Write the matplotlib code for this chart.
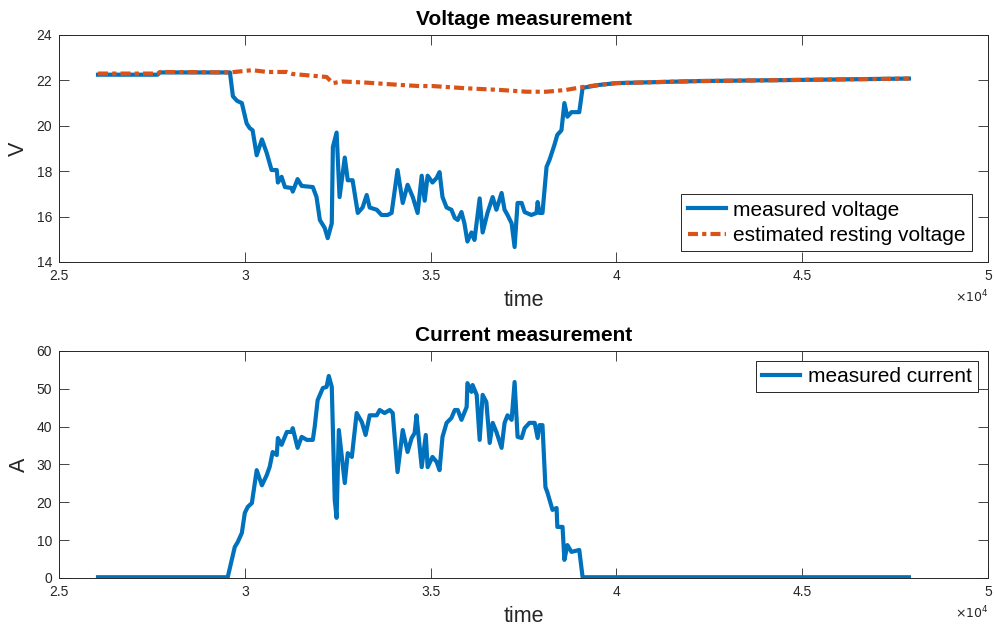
import numpy as np
import matplotlib
matplotlib.use('Agg')
import matplotlib.pyplot as plt
from matplotlib.ticker import FuncFormatter

plt.rcParams['font.family'] = ['Liberation Sans', 'DejaVu Sans']

# measured voltage (time in s, volts)
t_volt = [26050, 27650, 27720, 29600, 29680, 29790, 29920, 30050, 30130, 30210,
          30320, 30460, 30590, 30720, 30860, 30890, 30990, 31080, 31260, 31290,
          31420, 31530, 31830, 31930, 32020, 32150, 32230, 32340, 32370, 32470,
          32550, 32690, 32770, 32900, 33040, 33170, 33280, 33360, 33550, 33680,
          33840, 33950, 34110, 34250, 34380, 34520, 34650, 34760, 34840, 34920,
          35050, 35160, 35240, 35320, 35430, 35560, 35650, 35730, 35830, 35910,
          35990, 36100, 36180, 36320, 36400, 36530, 36670, 36770, 36910, 36990,
          37070, 37180, 37260, 37340, 37450, 37530, 37710, 37850, 37880, 37930,
          38010, 38120, 38200, 38330, 38410, 38520, 38600, 38680, 38790, 39000,
          39090, 39540, 40000, 42230, 44920, 47870]
volt = [22.25, 22.25, 22.35, 22.35, 21.3, 21.1, 21.0, 20.1, 19.9, 19.8,
        18.7, 19.4, 18.8, 18.05, 18.05, 17.5, 17.75, 17.3, 17.26, 17.1,
        17.65, 17.35, 17.3, 16.86, 15.85, 15.5, 15.05, 15.7, 19.07, 19.7,
        16.86, 18.6, 17.6, 17.6, 16.16, 16.4, 16.95, 16.4, 16.3, 16.07,
        16.07, 16.16, 18.05, 16.6, 17.4, 16.86, 16.16, 17.8, 16.7, 17.8,
        17.5, 17.7, 17.96, 16.86, 16.4, 16.3, 15.94, 15.85, 16.2, 15.7,
        14.9, 15.3, 14.97, 16.8, 15.3, 16.16, 16.86, 16.3, 17.04, 16.3,
        16.07, 15.7, 14.66, 16.6, 16.6, 16.2, 16.07, 16.16, 16.64, 16.16,
        16.16, 18.19, 18.5, 19.15, 19.6, 19.8, 21.0, 20.4, 20.6, 20.6,
        21.67, 21.8, 21.88, 21.97, 22.02, 22.08]

# estimated resting voltage
t_rest = [26050, 27650, 27720, 29600, 30200, 30600, 31130, 31290, 32200, 32370,
          32630, 33280, 34170, 34700, 35050, 35970, 36850, 37580, 38120, 38650,
          39060, 39540, 40000, 42230, 44920, 47870]
rest = [22.3, 22.3, 22.37, 22.35, 22.45, 22.37, 22.37, 22.28, 22.15, 21.88,
        21.95, 21.9, 21.8, 21.75, 21.75, 21.65, 21.58, 21.5, 21.5, 21.58,
        21.7, 21.8, 21.88, 21.97, 22.02, 22.08]

# measured current (time in s, amps)
t_curr = [26050, 29540, 29730, 29810, 29920, 30000, 30080, 30190, 30320, 30460,
          30590, 30670, 30750, 30860, 30890, 30990, 31130, 31260, 31290, 31420,
          31530, 31670, 31830, 31880, 31960, 32100, 32200, 32260, 32340, 32420,
          32470, 32530, 32690, 32770, 32880, 33010, 33150, 33250, 33360, 33550,
          33630, 33760, 33900, 33980, 34110, 34250, 34380, 34490, 34570, 34620,
          34760, 34870, 34920, 35050, 35160, 35240, 35320, 35430, 35560, 35650,
          35730, 35830, 35970, 35990, 36100, 36130, 36240, 36320, 36400, 36500,
          36590, 36670, 36770, 36910, 36990, 37070, 37180, 37260, 37340, 37450,
          37530, 37660, 37800, 37880, 37930, 38010, 38090, 38140, 38280, 38390,
          38410, 38550, 38600, 38680, 38790, 39000, 39090, 47870]
curr = [0.2, 0.2, 8.2, 9.5, 11.9, 17.2, 18.8, 19.8, 28.5, 24.5,
        27.2, 29.4, 33.3, 32.5, 37.0, 35.2, 38.6, 38.6, 39.6, 34.4,
        37.3, 36.5, 36.5, 39.9, 47.0, 50.2, 50.5, 53.4, 50.5, 20.6,
        15.9, 39.1, 25.1, 33.0, 32.0, 43.6, 41.2, 37.8, 43.0, 43.0,
        44.4, 43.6, 44.4, 43.6, 28.0, 39.1, 33.3, 37.0, 38.3, 43.0,
        29.3, 37.8, 29.3, 32.0, 30.7, 28.5, 37.3, 41.0, 42.3, 44.4,
        44.4, 41.8, 45.2, 51.5, 49.2, 51.0, 48.4, 36.5, 48.4, 46.5,
        35.7, 41.0, 38.6, 34.4, 41.0, 43.0, 41.8, 51.8, 37.3, 37.0,
        39.6, 41.0, 41.0, 37.0, 40.4, 40.4, 24.0, 22.7, 18.0, 18.5,
        13.5, 13.5, 4.8, 8.7, 6.9, 7.4, 0.2, 0.2]

blue = '#0072BD'
orange = '#D95319'
axcol = '#262626'

fig = plt.figure(figsize=(9.95, 6.29), dpi=100)
ax1 = fig.add_axes([0.0593, 0.5835, 0.9337, 0.3609])
ax2 = fig.add_axes([0.0593, 0.0811, 0.9337, 0.3609])

ax1.plot(t_volt, volt, color=blue, lw=3, label='measured voltage')
ax1.plot(t_rest, rest, color=orange, lw=3, ls=(0, (2.4, 1, 1, 1)),
         label='estimated resting voltage')
ax2.plot(t_curr, curr, color=blue, lw=3, label='measured current')

fmt = FuncFormatter(lambda v, p: '%g' % (v / 1e4))

for ax in (ax1, ax2):
    ax.set_xlim(25000, 50000)
    ax.set_xticks(np.arange(25000, 50001, 5000))
    ax.xaxis.set_major_formatter(fmt)
    ax.tick_params(direction='in', length=7, width=0.6, colors=axcol,
                   labelsize=10, top=True, right=True, pad=5)
    for s in ax.spines.values():
        s.set_color(axcol)
        s.set_linewidth(0.7)
    ax.set_xlabel('time', fontsize=15.5, color=axcol, labelpad=5)
    ax.text(1.0, -0.155, r'$\times10^{4}$', transform=ax.transAxes,
            fontsize=9, color=axcol, ha='right', va='center')

ax1.set_ylim(14, 24)
ax1.set_yticks(np.arange(14, 25, 2))
ax1.set_ylabel('V', fontsize=15.5, color=axcol, labelpad=5)
ax1.set_title('Voltage measurement', fontsize=15, fontweight='bold', pad=7)

ax2.set_ylim(0, 60)
ax2.set_yticks(np.arange(0, 61, 10))
ax2.set_ylabel('A', fontsize=15.5, color=axcol, labelpad=5)
ax2.set_title('Current measurement', fontsize=15, fontweight='bold', pad=7)

# legends: voltage one sits low on the right, current one top right
for ax, loc, anchor in ((ax1, 'lower right', (0.983, 0.048)),
                        (ax2, 'upper right', (0.989, 0.956))):
    leg = ax.legend(loc=loc, bbox_to_anchor=anchor, borderaxespad=0,
                    fontsize=15, handlelength=1.85, handletextpad=0.35,
                    fancybox=False, framealpha=1, borderpad=0.3,
                    labelspacing=0.3)
    leg.get_frame().set_edgecolor(axcol)
    leg.get_frame().set_linewidth(0.7)

fig.savefig('out.png', dpi=100)
